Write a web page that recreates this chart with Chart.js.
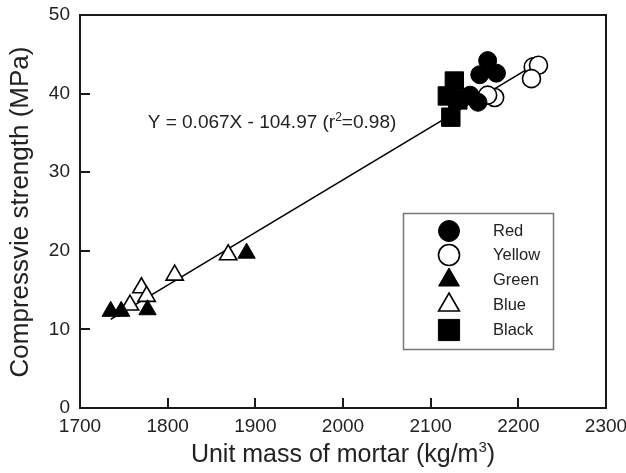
<!DOCTYPE html>
<html>
<head>
<meta charset="utf-8">
<script src="https://cdn.jsdelivr.net/npm/chart.js@4.4.1/dist/chart.umd.min.js"></script>
<style>
  html, body { margin: 0; padding: 0; background: #fff; }
  #wrap { width: 626px; height: 473px; }
</style>
</head>
<body>
<div id="wrap"><canvas id="myChart" width="626" height="473"></canvas></div>
<script>
'use strict';

// measured points per mortar colour (unit mass kg/m3, strength MPa)
let redX = [2165, 2156, 2175, 2154, 2145];
let redY = [44.2, 42.4, 42.6, 38.9, 39.8];
let yellowX = [2217, 2223, 2215, 2173, 2165];
let yellowY = [43.4, 43.6, 41.9, 39.5, 39.8];
let greenX = [1735, 1747, 1777, 1890];
let greenY = [12.3, 12.3, 12.5, 19.7];
let blueX = [1869, 1808, 1770, 1776, 1757];
let blueY = [19.5, 16.9, 15.3, 14.2, 13.1];
let blackX = [2127, 2119, 2123, 2131];
let blackY = [41.6, 39.7, 37.0, 39.2];

// regression line
let fitSlope = 0.067;
let fitIntercept = -104.97;
let fitRange = [1735, 2225];
let fitLabel = 'Y = 0.067X - 104.97 (r\u00B2=0.98)';

let xTicks = [1700, 1800, 1900, 2000, 2100, 2200, 2300];
let yTicks = [0, 10, 20, 30, 40, 50];

let groupNames = ['Red', 'Yellow', 'Green', 'Blue', 'Black'];

const FONT = 'Arial, "Liberation Sans", sans-serif';

function toPoints(xs, ys) {
  let pts = [];
  for (let i = 0; i < xs.length; i++) {
    pts.push({ x: xs[i], y: ys[i] });
  }
  return pts;
}

function markerSet(label, xs, ys, style, filled, radius) {
  return {
    label: label,
    data: toPoints(xs, ys),
    pointStyle: style,
    pointRadius: radius,
    pointHoverRadius: radius,
    pointBackgroundColor: filled ? '#000' : '#fff',
    pointBorderColor: '#000',
    pointBorderWidth: filled ? 1 : 1.6,
    showLine: false
  };
}

let fitPoints = [];
for (let i = 0; i < fitRange.length; i++) {
  fitPoints.push({ x: fitRange[i], y: fitSlope * fitRange[i] + fitIntercept });
}

let datasets = [
  {
    label: 'fit',
    data: fitPoints,
    showLine: true,
    borderColor: '#000',
    borderWidth: 1.6,
    pointRadius: 0,
    order: 10
  },
  markerSet(groupNames[0], redX, redY, 'circle', true, 9),
  markerSet(groupNames[1], yellowX, yellowY, 'circle', false, 9),
  markerSet(groupNames[2], greenX, greenY, 'triangle', true, 10),
  markerSet(groupNames[3], blueX, blueY, 'triangle', false, 10),
  markerSet(groupNames[4], blackX, blackY, 'rect', true, 13)
];

// draws text with a small raised piece (superscript) in the middle
function textWithSup(ctx, before, sup, after, cx, cy, size, supSize, lift) {
  ctx.font = size + 'px ' + FONT;
  let w1 = ctx.measureText(before).width;
  let w3 = ctx.measureText(after).width;
  ctx.font = supSize + 'px ' + FONT;
  let w2 = ctx.measureText(sup).width;
  let x = cx - (w1 + w2 + w3) / 2;
  ctx.textAlign = 'left';
  ctx.textBaseline = 'middle';
  ctx.font = size + 'px ' + FONT;
  ctx.fillText(before, x, cy);
  ctx.font = supSize + 'px ' + FONT;
  ctx.fillText(sup, x + w1, cy - lift);
  ctx.font = size + 'px ' + FONT;
  ctx.fillText(after, x + w1 + w2, cy);
}

// box around the plot plus inward tick marks
const framePlugin = {
  id: 'frame',
  beforeDatasetsDraw(chart) {
    const ctx = chart.ctx;
    const a = chart.chartArea;
    const xs = chart.scales.x;
    const ys = chart.scales.y;
    ctx.save();
    ctx.strokeStyle = '#1a1a1a';
    ctx.lineWidth = 2;
    ctx.strokeRect(a.left, a.top, a.right - a.left, a.bottom - a.top);
    ctx.beginPath();
    for (let v of xTicks) {
      let px = Math.round(xs.getPixelForValue(v));
      ctx.moveTo(px, a.bottom);
      ctx.lineTo(px, a.bottom - 10);
    }
    for (let v of yTicks) {
      let py = Math.round(ys.getPixelForValue(v));
      ctx.moveTo(a.left, py);
      ctx.lineTo(a.left + 10, py);
    }
    ctx.stroke();
    ctx.restore();
  },
  afterDraw(chart) {
    const ctx = chart.ctx;
    const a = chart.chartArea;
    ctx.save();
    ctx.fillStyle = '#222';

    // axis titles
    textWithSup(ctx, 'Unit mass of mortar (kg/m', '3', ')', (a.left + a.right) / 2, 455, 25, 15, 7);

    ctx.save();
    ctx.translate(21, 212);
    ctx.rotate(-Math.PI / 2);
    ctx.font = '26px ' + FONT;
    ctx.textAlign = 'center';
    ctx.textBaseline = 'middle';
    ctx.fillText('Compressvie strength (MPa)', 0, 0);
    ctx.restore();

    // regression equation
    let eqParts = fitLabel.split('\u00B2');
    textWithSup(ctx, eqParts[0], '2', eqParts[1], 272, 123, 19, 12, 5);

    // legend
    ctx.strokeStyle = '#777';
    ctx.lineWidth = 1.5;
    ctx.strokeRect(403.5, 213.5, 150, 136);
    ctx.font = '16.5px ' + FONT;
    ctx.textAlign = 'left';
    ctx.textBaseline = 'middle';
    let rowY = [231, 255, 280, 305, 330];
    for (let i = 1; i < datasets.length; i++) {
      let ds = datasets[i];
      let y = rowY[i - 1];
      ctx.fillStyle = ds.pointBackgroundColor;
      ctx.strokeStyle = '#000';
      ctx.lineWidth = ds.pointBorderWidth;
      let r = ds.pointStyle === 'circle' ? 10.5 : (ds.pointStyle === 'rect' ? 15 : 12);
      Chart.helpers.drawPoint(ctx, { pointStyle: ds.pointStyle, radius: r, borderWidth: ds.pointBorderWidth }, 449, y);
      ctx.fillStyle = '#222';
      ctx.fillText(ds.label, 493, y);
    }
    ctx.restore();
  }
};

const config = {
  type: 'scatter',
  data: { datasets: datasets },
  options: {
    responsive: false,
    animation: false,
    events: [],
    layout: { autoPadding: false, padding: { left: 0, right: 20, top: 15, bottom: 0 } },
    plugins: {
      legend: { display: false },
      tooltip: { enabled: false }
    },
    scales: {
      x: {
        type: 'linear',
        min: 1700,
        max: 2300,
        afterFit: (s) => {
          s.height = 65;
          s.paddingLeft = 0;
          s.paddingRight = 0;
        },
        afterBuildTicks: (s) => { s.ticks = xTicks.map(v => ({ value: v })); },
        grid: { display: false, drawTicks: false },
        border: { display: false },
        ticks: {
          padding: 7,
          color: '#222',
          font: { family: FONT, size: 19 },
          maxRotation: 0,
          callback: (v) => String(v)
        }
      },
      y: {
        type: 'linear',
        min: 0,
        max: 50,
        afterFit: (s) => {
          s.width = 80;
          s.paddingTop = 0;
          s.paddingBottom = 0;
        },
        afterBuildTicks: (s) => { s.ticks = yTicks.map(v => ({ value: v })); },
        grid: { display: false, drawTicks: false },
        border: { display: false },
        ticks: {
          padding: 10,
          color: '#222',
          font: { family: FONT, size: 19 },
          callback: (v) => String(v)
        }
      }
    }
  },
  plugins: [framePlugin]
};

const myChart = new Chart(document.getElementById('myChart'), config);
</script>
</body>
</html>
